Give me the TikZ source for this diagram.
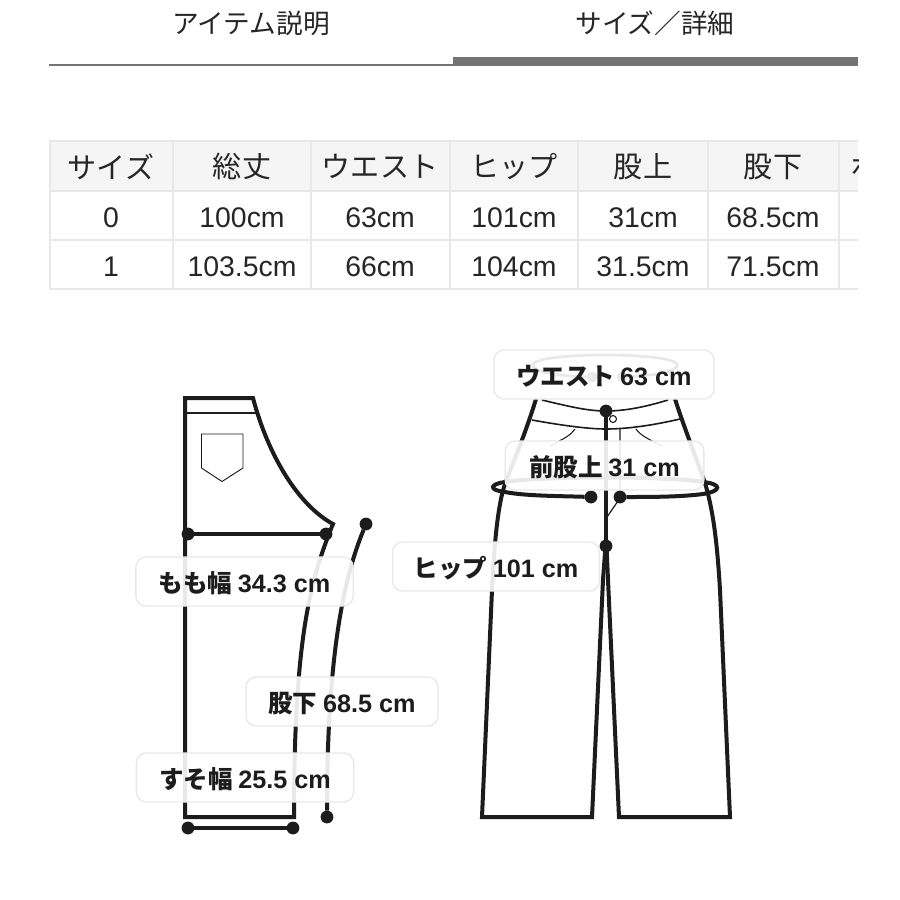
\documentclass[tikz,border=0pt]{standalone}
\usepackage{fontspec}
\setmainfont{Noto Sans CJK JP}
\newfontfamily\lat{Liberation Sans}
\usetikzlibrary{calc}
\definecolor{ink}{HTML}{1C1C1C}
\definecolor{gridc}{HTML}{E8E8E8}
\definecolor{headc}{HTML}{F5F5F5}
\definecolor{barc}{HTML}{737373}
\newcommand{\pxfont}[1]{\fontsize{#1}{#1}\selectfont}
\newcommand{\taglabel}[2]{\raisebox{-8pt}[0pt][0pt]{#1 {\lat\pxfont{18.9}#2}}}
\tikzset{
 x=0.75pt,y=-0.75pt,
 garment/.style={draw=ink,line width=3pt,line join=miter},
 thinl/.style={draw=ink,line width=1pt},
 hairl/.style={draw=ink,line width=0.7pt},
 dimline/.style={draw=ink,line width=3pt},
 dot/.style={circle,fill=ink,minimum size=9.6pt,inner sep=0pt,outer sep=0pt},
 tag/.style={rounded corners=7.5pt,draw=gridc,line width=1pt,fill=white,fill opacity=0.9,text opacity=1,
   font=\pxfont{18.4}\bfseries,text=ink,inner sep=0pt,anchor=center,minimum height=36.75pt},
 cellh/.style={font=\pxfont{21.8},text=black!85,anchor=center,inner sep=0pt},
 cell/.style={font=\lat\pxfont{21.3},text=black!85,anchor=center,inner sep=0pt},
 tabt/.style={font=\pxfont{20},text=black!85,anchor=center,inner sep=0pt},
}
\begin{document}
\begin{tikzpicture}
\useasboundingbox (0,0) rectangle (900,900);
\fill[white] (0,0) rectangle (900,900);
% tabs
\node[tabt] (tabA) at (251,23) {アイテム説明};
\node[tabt] (tabB) at (655,23) {サイズ／詳細};
\fill[barc] (453,57) rectangle (858,66);
\draw[barc,line width=1.6pt] (49,65) -- (453,65);
% table
\fill[headc] (49,141) rectangle (858,190);
\begin{scope}[gridc,line width=1.5pt]
\foreach \yy in {141,190.5,239.5,289} \draw (49,\yy) -- (858,\yy);
\foreach \xx in {50,173,311,450,578,708,839} \draw (\xx,141) -- (\xx,289);
\end{scope}
\foreach \cx/\a/\b/\c/\n in {
 111/サイズ/0/1/s,
 242/総丈/100cm/103.5cm/l,
 380/ウエスト/63cm/66cm/w,
 514/ヒップ/101cm/104cm/h,
 643/股上/31cm/31.5cm/r,
 773/股下/68.5cm/71.5cm/i}{
 \node[cellh] (h\n) at (\cx,166.5) {\a};
 \node[cell] (a\n) at (\cx,218) {\b};
 \node[cell] (b\n) at (\cx,267) {\c};
}
\begin{scope}
\clip (839,141) rectangle (858,190);
\node[cellh] (hx) at (865,166.5) {ホ};
\end{scope}
% ---- left garment
\draw[garment] (294,817) -- (185,817) -- (185,398) -- (253,398)
  .. controls (268,455) and (298,505) .. (333,524)
  .. controls (310,580) and (294,640) .. (294,817) -- cycle;
\draw[thinl] (185,413) -- (257,413);
\draw[hairl] (201.5,434) -- (243,434) -- (243,468) -- (222,481.5) -- (201.5,468) -- cycle;
\node[dot] (thighL) at (188,534) {};
\node[dot] (thighR) at (326,534) {};
\draw[dimline] (thighL) -- (thighR);
\node[dot] (hemL) at (188,828) {};
\node[dot] (hemR) at (293,828) {};
\draw[dimline] (hemL) -- (hemR);
\node[dot] (inT) at (366,524) {};
\node[dot] (inB) at (327,817) {};
\draw[dimline] (inT) .. controls (345,575) and (327,650) .. (inB);
% ---- right garment
\draw[garment] (536,399) .. controls (525,435) and (512,465) .. (504,487)
  .. controls (497,510) and (494,550) .. (492,590)
  -- (482,817) -- (592,817) -- (603,580) -- (605.5,546);
\draw[garment] (675,399) .. controls (685,430) and (697,460) .. (705,483)
  .. controls (713,510) and (717,540) .. (720,590)
  -- (730,817) -- (619,817) -- (608,580) -- (606.5,546);
\draw[thinl,line width=1.2pt] (542,400) .. controls (575,408) and (590,411) .. (606,411)
  .. controls (625,411) and (645,407) .. (668,400);
\draw[thinl,line width=1.2pt] (532,420) .. controls (565,426) and (590,429) .. (606,429)
  .. controls (625,429) and (650,426) .. (680,419);
\draw[thinl,line width=0.8pt] (575,429) .. controls (571,435) and (565,438) .. (550,446);
\draw[thinl,line width=0.8pt] (636,429) .. controls (640,435) and (648,439) .. (662,446);
\draw[thinl,line width=0.9pt] (620,429) -- (620,498) -- (607,517);
\node[dot] (topF) at (606,411) {};
\node[dot] (crotch) at (606,546) {};
\draw[dimline] (topF) -- (crotch);
\draw[draw=ink,line width=0.8pt,fill=white] (613,419) circle[radius=3.5];
% hip measure
\node[dot] (hipL) at (591,497) {};
\node[dot] (hipR) at (620,497) {};
\draw[dimline] (hipL) .. controls (560,496) and (525,496) .. (505,492)
  .. controls (488,490) and (490,484) .. (505,482)
  .. controls (540,476) and (670,476) .. (703,482)
  .. controls (722,484) and (722,491) .. (703,494)
  .. controls (680,497) and (650,497) .. (hipR);
% waist measure (behind its label)
\node[dot,minimum size=8pt] (waistL) at (592,377) {};
\node[dot,minimum size=8pt] (waistR) at (622,377) {};
\draw[dimline,line width=2pt] (waistL) .. controls (560,376) and (530,372) .. (533,364)
  .. controls (540,352) and (670,352) .. (677,364)
  .. controls (680,372) and (650,376) .. (waistR);
% labels
\node[tag,minimum width=165pt] (lblT) at (604,374.5) {\taglabel{ウエスト}{63 cm}};
\node[tag,minimum width=149pt] (lblR) at (604.5,465.5) {\taglabel{前股上}{31 cm}};
\node[tag,minimum width=155pt] (lblH) at (496,566.5) {\taglabel{ヒップ}{101 cm}};
\node[tag,minimum width=163pt] (lblM) at (244.5,581.5) {\taglabel{もも幅}{34.3 cm}};
\node[tag,minimum width=144pt] (lblI) at (342,701.5) {\taglabel{股下}{68.5 cm}};
\node[tag,minimum width=163pt] (lblS) at (245,777.5) {\taglabel{すそ幅}{25.5 cm}};
\end{tikzpicture}
\end{document}
